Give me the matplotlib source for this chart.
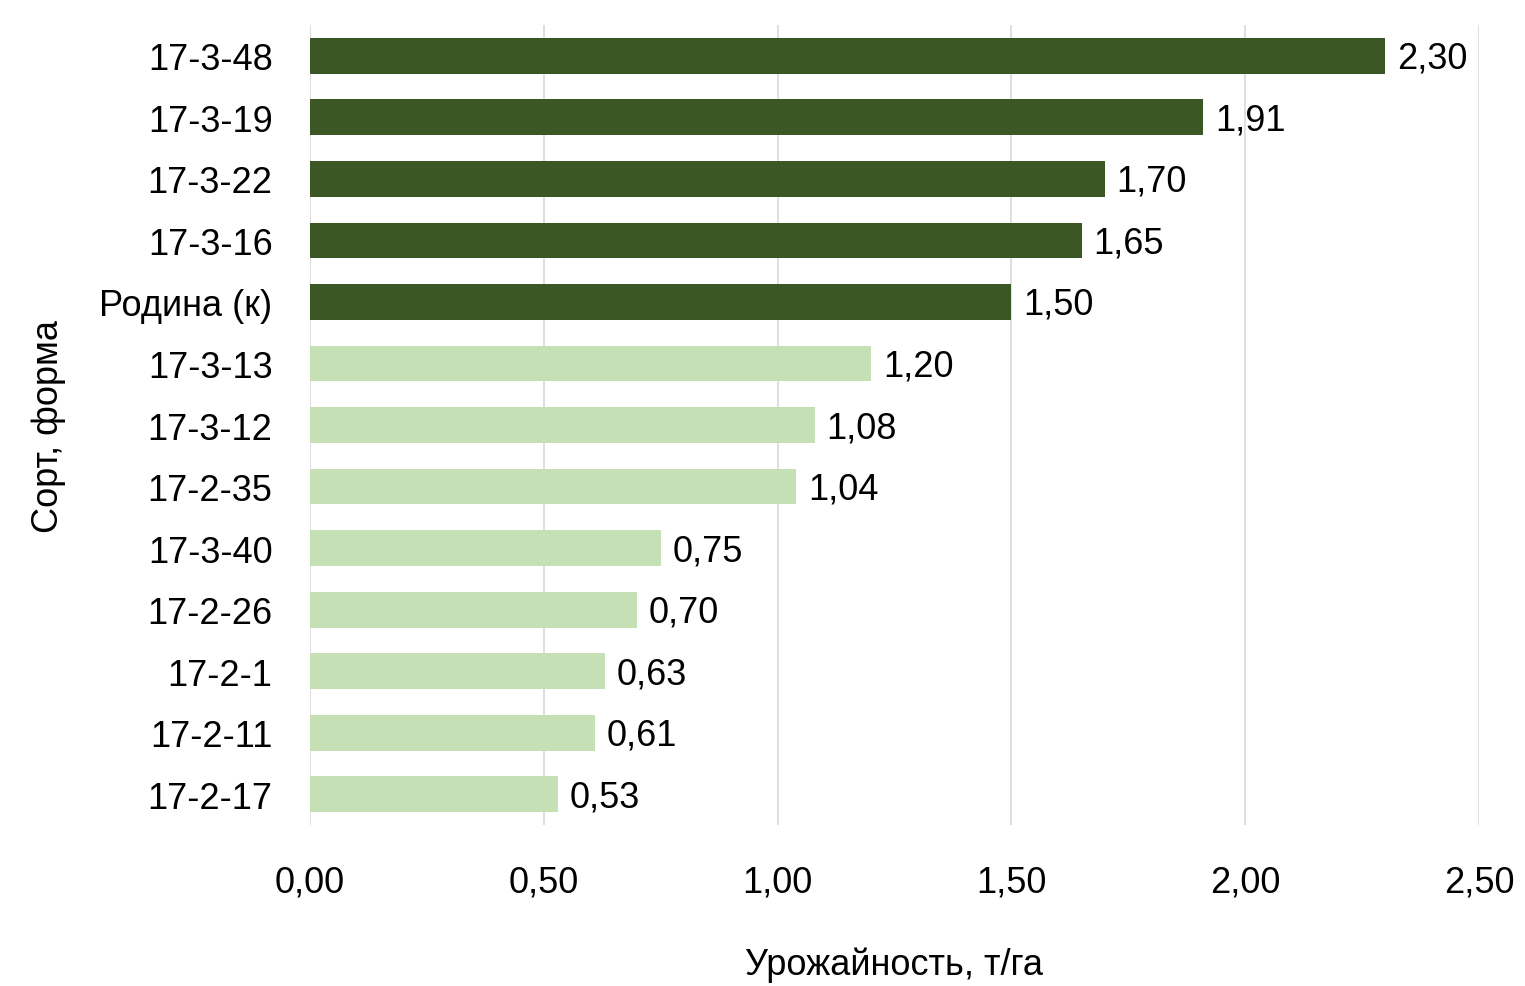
import matplotlib
matplotlib.use("Agg")
import matplotlib.pyplot as plt
import numpy as np

plt.rcParams['font.family'] = ['Liberation Sans Narrow', 'Liberation Sans', 'DejaVu Sans']

# данные (сверху вниз)
sorts = ["17-3-48", "17-3-19", "17-3-22", "17-3-16", "Родина (к)", "17-3-13",
         "17-3-12", "17-2-35", "17-3-40", "17-2-26", "17-2-1", "17-2-11", "17-2-17"]
yields = [2.30, 1.91, 1.70, 1.65, 1.50, 1.20, 1.08, 1.04, 0.75, 0.70, 0.63, 0.61, 0.53]
n_dark = 5
xticks = [0.0, 0.5, 1.0, 1.5, 2.0, 2.5]

dark = "#3A5724"
light = "#C5E0B4"
colors = [dark if i < n_dark else light for i in range(len(sorts))]
fs = 26

fig = plt.figure(figsize=(15.25, 9.87), dpi=100)
ax = fig.add_axes([0.2033, 0.163, 0.7665, 0.8107])

y = np.arange(len(sorts))
ax.barh(y, yields, height=0.58, color=colors, zorder=2)
for yi, v in zip(y, yields):
    ax.text(v + 0.025, yi + 0.04, f"{v:.2f}".replace(".", ","), va="center", ha="left",
            fontsize=fs, zorder=3)

ax.set_ylim(len(sorts) - 0.5, -0.5)
ax.set_xlim(0, 2.5)
ax.set_yticks(y)
ax.set_yticklabels(sorts, fontsize=fs)
ax.set_xticks(xticks)
ax.set_xticklabels([f"{t:.2f}".replace(".", ",") for t in xticks], fontsize=fs)
ax.tick_params(axis="both", length=0)
ax.tick_params(axis="x", pad=28)
ax.tick_params(axis="y", pad=27)
ax.xaxis.grid(True, color="#D9D9D9", linewidth=1.2, zorder=0)
for s in ax.spines.values():
    s.set_visible(False)

ax.set_xlabel("Урожайность, т/га", fontsize=fs, labelpad=34)
ax.set_ylabel("Сорт, форма", fontsize=fs, labelpad=24)

fig.savefig("out.png", dpi=100)
